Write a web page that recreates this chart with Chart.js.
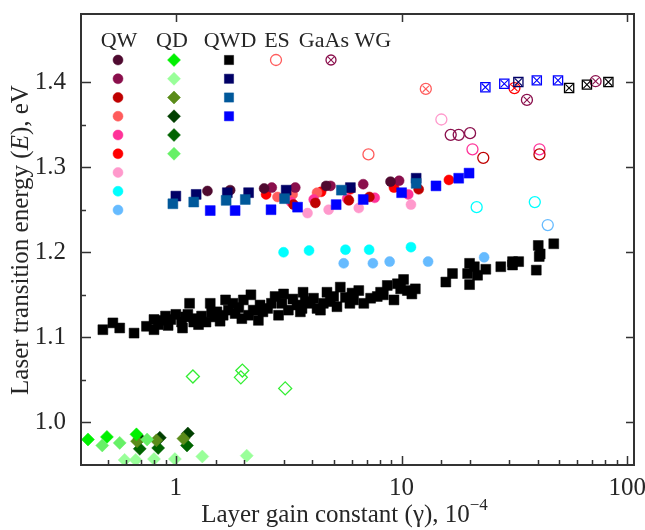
<!DOCTYPE html>
<html>
<head>
<meta charset="utf-8">
<script src="https://cdn.jsdelivr.net/npm/chart.js@4.4.1/dist/chart.umd.min.js"></script>
<style>
  html, body { margin: 0; padding: 0; background: #fff; }
  #wrap { width: 645px; height: 530px; }
</style>
</head>
<body>
<div id="wrap"><canvas id="chart" width="645" height="530"></canvas></div>
<script>
// QW, filled circles (ground state)
const qw1 = [[1.38,1.272],[1.74,1.273],[2.46,1.275],[4.63,1.278],[8.93,1.283]];
const qw2 = [[2.66,1.276],[3.38,1.276],[4.84,1.278],[6.76,1.280],[9.75,1.284]];
const qw3 = [[3.32,1.256],[4.15,1.258],[5.84,1.261],[7.2,1.265],[11.9,1.274]];
const qw4 = [[2.82,1.265],[3.29,1.268],[4.22,1.270]];
const qw5 = [[3.24,1.259],[4.08,1.262],[5.74,1.263],[7.6,1.264],[10.7,1.268]];
const qw6 = [[2.51,1.268],[3.15,1.269],[4.4,1.271],[5.93,1.274],[9.25,1.276],[16.2,1.285]];
const qw7 = [[3.83,1.246],[4.75,1.250],[6.46,1.252],[11.0,1.256]];
const qw8 = [[3.0,1.200],[3.89,1.202],[5.64,1.203],[7.18,1.203],[11.0,1.206]];
const qw9 = [[5.54,1.187],[7.46,1.187],[8.85,1.189],[13.1,1.189],[23.2,1.194]];

// QW, excited state (open circles)
const esQw2 = [[16.5,1.338],[17.9,1.338],[20.1,1.340]];
const esQw3 = [[23.0,1.311],[40.8,1.315]];
const esQw4 = [[7.13,1.315]];
const esQw5 = [[20.6,1.321],[40.8,1.321]];
const esQw7 = [[15.0,1.356]];
const esQw8 = [[21.5,1.253],[38.9,1.259]];
const esQw9 = [[44.4,1.232]];

// GaAs waveguide (crossed marks)
const wgQw2 = [[35.9,1.379],[72.3,1.401]];
const wgQw4 = [[12.8,1.392]];
const wgQw6 = [[31.6,1.393]];
const wgQwd1 = [[55.2,1.393],[66.2,1.397],[82.4,1.400]];
const wgQwd2 = [[32.9,1.400]];
const wgQwd4 = [[23.5,1.394],[28.5,1.398],[39.7,1.402],[49.3,1.402]];

// QD, filled diamonds
const qd1 = [[0.408,0.980],[0.495,0.983],[0.669,0.986]];
const qd2 = [[0.593,0.956],[0.664,0.956],[0.80,0.957],[0.99,0.957],[1.31,0.960],[2.06,0.961]];
const qd3 = [[0.673,0.978],[0.82,0.979],[1.08,0.981]];
const qd4 = [[0.692,0.981],[0.849,0.982],[1.13,0.987]];
const qd5 = [[0.692,0.969],[0.835,0.970],[1.12,0.973]];
const qd6 = [[0.472,0.973],[0.564,0.976],[0.746,0.980]];
const esQd = [[1.19,1.054],[1.97,1.061],[1.94,1.053],[3.05,1.040]];

// QWD, filled squares
const qwd1 = [
  [0.475,1.109],[0.526,1.117],[0.564,1.111],[0.653,1.105],[0.741,1.113],[0.80,1.121],
  [0.80,1.109],[0.835,1.115],[0.87,1.120],[0.90,1.125],[0.924,1.114],[0.95,1.121],
  [1.0,1.127],[1.06,1.118],[1.07,1.111],[1.10,1.124],[1.15,1.140],[1.13,1.127],
  [1.20,1.118],[1.24,1.122],[1.26,1.115],[1.30,1.125],[1.36,1.118],[1.42,1.140],
  [1.44,1.129],[1.48,1.124],[1.52,1.130],[1.57,1.119],[1.62,1.126],[1.66,1.144],
  [1.71,1.132],[1.79,1.140],[1.83,1.128],[1.90,1.135],[1.96,1.122],[1.99,1.144],
  [2.10,1.126],[2.15,1.150],[2.20,1.132],[2.32,1.120],[2.36,1.138],[2.43,1.130],
  [2.55,1.134],[2.65,1.140],[2.75,1.148],[2.85,1.126],[2.95,1.140],[3.0,1.151],
  [3.15,1.132],[3.30,1.145],[3.44,1.138],[3.56,1.130],[3.62,1.134],[3.66,1.153],
  [3.74,1.142],[3.94,1.140],[4.07,1.146],[4.22,1.134],[4.37,1.132],[4.50,1.140],
  [4.67,1.153],[4.83,1.142],[5.0,1.148],[5.17,1.136],[5.35,1.159],[5.64,1.147],
  [5.90,1.140],[6.03,1.152],[6.13,1.144],[6.46,1.155],[6.80,1.140],[7.29,1.146],
  [7.80,1.148],[8.07,1.153],[8.30,1.150],[8.64,1.161],[9.25,1.144],[9.58,1.163],
  [9.90,1.157],[10.2,1.168],[10.6,1.155],[11.1,1.151],[11.5,1.157],
  [15.7,1.165],[16.8,1.175],[19.6,1.175],[20.0,1.187],[21.0,1.183],[21.7,1.173],
  [20.0,1.162],[23.6,1.180],[27.5,1.183],[31.0,1.189],[33.0,1.189],[31.0,1.185],
  [40.3,1.208],[41.1,1.198],[40.7,1.195],[39.5,1.179],[47.2,1.210]
];
const qwd2 = [[1.0,1.266],[1.23,1.268],[1.69,1.270],[2.1,1.270],[3.08,1.273],[5.93,1.276],[11.6,1.287]];
const qwd3 = [[0.97,1.257],[1.2,1.259],[1.67,1.261],[2.03,1.262],[3.03,1.263],[5.41,1.273],[11.6,1.281]];
const qwd4 = [[1.42,1.249],[1.83,1.249],[2.64,1.250],[3.46,1.253],[5.13,1.256],[6.76,1.262],
              [10.0,1.270],[14.2,1.278],[17.9,1.287],[19.9,1.293]];

// axis ranges and labelled ticks
const xMin = 0.38, xMax = 107;
const yMin = 0.95, yMax = 1.48;
const xLabels = [1, 10, 100];
const yStep = 0.05;

// colours of the groups
const qwColors = ['#4f0a30','#8a0f4c','#bf0000','#ff5c5c','#ff3399','#ff0000','#ff99cc','#00ffff','#66bbff'];
const qdColors = ['#00f000','#99ff99','#5b8c1a','#003f00','#006400','#66f066'];
const qwdColors = ['#000000','#000066','#00589a','#0000ff'];

const FONT = "'Liberation Serif', 'Times New Roman', serif";
const TEXT = '#262626';

const pts = arr => arr.map(([x, y]) => ({ x, y }));

function filled(data, color, style, r) {
  return { data: pts(data), pointStyle: style, pointRadius: r, backgroundColor: color,
           borderColor: color, borderWidth: 0.5 };
}
function open(data, color, style, r) {
  return { data: pts(data), pointStyle: style, pointRadius: r, backgroundColor: 'rgba(0,0,0,0)',
           borderColor: color, borderWidth: 1.3 };
}
function crossed(data, color, style, r) {
  return [open(data, color, style, r),
          { data: pts(data), pointStyle: 'crossRot', pointRadius: r * 0.8, borderColor: color, borderWidth: 1.1 }];
}

const datasets = [
  filled(qwd1, qwdColors[0], 'rect', 7),
  filled(qd2, qdColors[1], 'rectRot', 6.5),
  filled(qd6, qdColors[5], 'rectRot', 6.5),
  filled(qd1, qdColors[0], 'rectRot', 6.5),
  filled(qd3, qdColors[2], 'rectRot', 6.5),
  filled(qd5, qdColors[4], 'rectRot', 6.5),
  filled(qd4, qdColors[3], 'rectRot', 6.5),
  open(esQd, '#33ee33', 'rectRot', 6.5),
  filled(qwd3, qwdColors[2], 'rect', 7),
  filled(qwd2, qwdColors[1], 'rect', 7),
  filled(qwd4, qwdColors[3], 'rect', 7),
  filled(qw1, qwColors[0], 'circle', 5),
  filled(qw2, qwColors[1], 'circle', 5),
  filled(qw7, qwColors[6], 'circle', 5),
  filled(qw3, qwColors[2], 'circle', 5),
  filled(qw5, qwColors[4], 'circle', 5),
  filled(qw4, qwColors[3], 'circle', 5),
  filled(qw6, qwColors[5], 'circle', 5),
  filled(qw8, qwColors[7], 'circle', 5),
  filled(qw9, qwColors[8], 'circle', 5),
  open(esQw2, qwColors[1], 'circle', 5.5),
  open(esQw3, qwColors[2], 'circle', 5.5),
  open(esQw4, qwColors[3], 'circle', 5.5),
  open(esQw5, qwColors[4], 'circle', 5.5),
  open(esQw7, qwColors[6], 'circle', 5.5),
  open(esQw8, qwColors[7], 'circle', 5.5),
  open(esQw9, qwColors[8], 'circle', 5.5),
  ...crossed(wgQwd4, qwdColors[3], 'rect', 6.5),
  ...crossed(wgQwd2, qwdColors[1], 'rect', 6.5),
  ...crossed(wgQwd1, qwdColors[0], 'rect', 6.5),
  ...crossed(wgQw4, qwColors[3], 'circle', 5.5),
  ...crossed(wgQw6, qwColors[5], 'circle', 5.5),
  ...crossed(wgQw2, qwColors[1], 'circle', 5.5)
];

const isPow10 = v => Math.abs(Math.log10(v) - Math.round(Math.log10(v))) < 1e-6;
const isTenth = v => Math.abs(v * 10 - Math.round(v * 10)) < 1e-6;

// frame with inward ticks (all four sides, as in the figure)
const frame = {
  id: 'frame',
  afterDraw(chart) {
    const { ctx, chartArea: a, scales: { x, y } } = chart;
    ctx.save();
    ctx.strokeStyle = '#333';
    ctx.lineWidth = 2;
    ctx.strokeRect(a.left, a.top, a.right - a.left, a.bottom - a.top);
    ctx.lineWidth = 1.5;
    ctx.beginPath();
    x.ticks.forEach(t => {
      const px = Math.round(x.getPixelForValue(t.value)) + 0.5;
      if (px < a.left + 2 || px > a.right - 2) return;
      const major = isPow10(t.value);
      ctx.moveTo(px, a.bottom); ctx.lineTo(px, a.bottom - (major ? 9 : 5));
      if (major) { ctx.moveTo(px, a.top); ctx.lineTo(px, a.top + 8); }
    });
    y.ticks.forEach(t => {
      const py = Math.round(y.getPixelForValue(t.value)) + 0.5;
      if (py < a.top + 2 || py > a.bottom - 2) return;
      const major = isTenth(t.value);
      ctx.moveTo(a.left, py); ctx.lineTo(a.left + (major ? 10 : 5), py);
      if (major) { ctx.moveTo(a.right, py); ctx.lineTo(a.right - 8, py); }
    });
    ctx.stroke();

    // axis titles
    ctx.fillStyle = TEXT;
    ctx.textBaseline = 'alphabetic';
    const f = '25px ' + FONT, fi = 'italic 25px ' + FONT, fs = '17px ' + FONT;
    // x title
    const xt = 'Layer gain constant (\u03b3), 10';
    ctx.font = f; const w1 = ctx.measureText(xt).width;
    ctx.font = fs; const w2 = ctx.measureText('\u22124').width;
    let sx = (a.left + a.right) / 2 - (w1 + w2) / 2 - 13;
    ctx.font = f; ctx.textAlign = 'left';
    ctx.fillText(xt, sx, 522);
    ctx.font = fs; ctx.fillText('\u22124', sx + w1, 510);
    // y title
    const parts = [['Laser transition energy (', f], ['E', fi], ['), eV', f]];
    let total = 0;
    parts.forEach(p => { ctx.font = p[1]; total += ctx.measureText(p[0]).width; });
    ctx.translate(28, 240);
    ctx.rotate(-Math.PI / 2);
    let cx = -total / 2;
    parts.forEach(p => { ctx.font = p[1]; ctx.fillText(p[0], cx, 0); cx += ctx.measureText(p[0]).width; });
    ctx.restore();
  }
};

// in-plot legend: group names and the marker colours of each group
const legendCols = [
  { x: 118, colors: qwColors, style: 'circle', r: 5, mode: 'fill' },
  { x: 174, colors: qdColors, style: 'rectRot', r: 6.5, mode: 'fill' },
  { x: 229, colors: qwdColors, style: 'rect', r: 6.5, mode: 'fill' },
  { x: 276, colors: [qwColors[3]], style: 'circle', r: 5.5, mode: 'open' },
  { x: 331, colors: [qwColors[1]], style: 'circle', r: 5, mode: 'cross' }
];
const legendHeads = [['QW', 119], ['QD', 172], ['QWD', 230], ['ES', 277], ['GaAs WG', 345]];

const legendPlugin = {
  id: 'inlegend',
  afterDatasetsDraw(chart) {
    const { ctx } = chart;
    const draw = Chart.helpers.drawPoint;
    ctx.save();
    ctx.fillStyle = TEXT;
    ctx.font = '22px ' + FONT;
    ctx.textAlign = 'center';
    ctx.textBaseline = 'alphabetic';
    legendHeads.forEach(([t, x]) => ctx.fillText(t, x, 47));
    legendCols.forEach(col => {
      col.colors.forEach((c, i) => {
        const y = 60 + i * 18.75;
        ctx.fillStyle = col.mode === 'fill' ? c : 'rgba(0,0,0,0)';
        ctx.strokeStyle = c;
        ctx.lineWidth = col.mode === 'fill' ? 0.5 : 1.3;
        draw(ctx, { pointStyle: col.style, radius: col.r, rotation: 0, borderWidth: ctx.lineWidth }, col.x, y);
        if (col.mode === 'cross') {
          ctx.lineWidth = 1.1;
          draw(ctx, { pointStyle: 'crossRot', radius: col.r * 0.8, rotation: 0, borderWidth: 1.1 }, col.x, y);
        }
      });
    });
    ctx.restore();
  }
};

new Chart(document.getElementById('chart'), {
  type: 'scatter',
  data: { datasets },
  plugins: [frame, legendPlugin],
  options: {
    responsive: false,
    animation: false,
    events: [],
    layout: { padding: { left: 0, right: 11, top: 14, bottom: 0 } },
    plugins: { legend: { display: false }, tooltip: { enabled: false } },
    scales: {
      x: {
        type: 'logarithmic',
        min: xMin, max: xMax,
        grid: { display: false },
        border: { display: false },
        ticks: {
          autoSkip: false, maxRotation: 0, padding: 0,
          color: TEXT, font: { family: FONT, size: 25 },
          callback: v => (xLabels.some(l => Math.abs(l - v) < 1e-9) ? String(v) : '')
        },
        afterFit: s => { s.height = 65; s.paddingLeft = 0; s.paddingRight = 0; }
      },
      y: {
        min: yMin, max: yMax,
        grid: { display: false },
        border: { display: false },
        ticks: {
          stepSize: yStep, autoSkip: false, padding: 7,
          color: TEXT, font: { family: FONT, size: 25 },
          callback: v => (isTenth(v) ? v.toFixed(1) : '')
        },
        afterFit: s => { s.width = 81; s.paddingTop = 0; s.paddingBottom = 0; }
      }
    }
  }
});
</script>
</body>
</html>
